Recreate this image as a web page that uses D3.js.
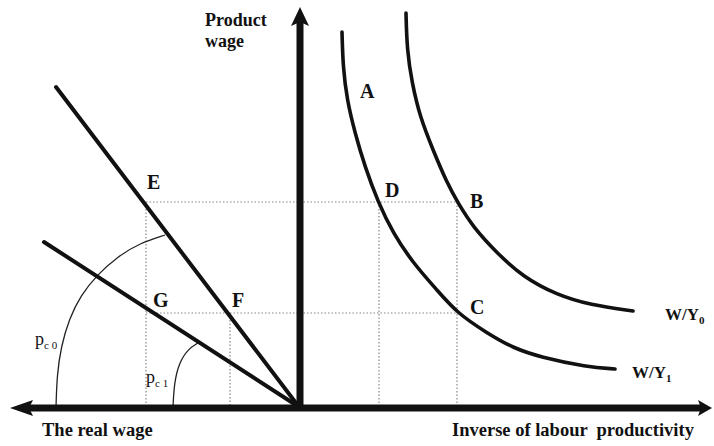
<!DOCTYPE html>
<html>
<head>
<meta charset="utf-8">
<script src="https://cdn.jsdelivr.net/npm/d3@7"></script>
<style>
  body { margin: 0; background: #fff; }
  text { font-family: "Liberation Serif", "Times New Roman", serif; fill: #111; }
</style>
</head>
<body>
<svg width="714" height="446"></svg>
<script>
// Curves of W/Y (product wage vs inverse of labour productivity)
const curveW0 = [[26.75, 98.5], [27, 89.25], [28.25, 81], [30.25, 72.5], [33.5, 64.25], [37, 56],
  [39.75, 51], [43.5, 45], [49.5, 38.5], [56, 32.5], [64.5, 28], [72.75, 25.5], [83.5, 24]];
const curveW1 = [[10.75, 93.75], [11, 85], [12, 76.75], [14, 68.5], [16.5, 60], [19.75, 51.25],
  [23.5, 43.5], [28.5, 36], [34.5, 29.25], [39.5, 23.5], [47, 18.5], [53.5, 14.75],
  [60.25, 12.5], [72, 10], [79, 9.5]];

// rays through origin (real wage side)
const rayE = [[0, 0], [-60.75, 80]];
const rayG = [[0, 0], [-63.75, 41.25]];

// angle arcs
const arcPc0 = [[-60.75, 0], [-60.5, 8], [-59.5, 15], [-57.5, 22], [-54.5, 28], [-50.5, 33], [-45.5, 37.5], [-39.75, 41], [-33.5, 43]];
const arcPc1 = [[-31.5, 0], [-31.2, 6], [-30, 11], [-27.75, 14.5], [-25.25, 16]];

// dotted guides
const hGuides = [[-38.25, 39.5, 51.25], [-38.25, 39.5, 23.5]];
const vGuides = [[-38.25, 51.25], [-17.25, 23.5], [20, 51.25], [39.5, 51.25]];

// point labels
const pointNames = ['A', 'B', 'C', 'D', 'E', 'F', 'G'];
const pointPos = [[15.25, 77.25], [42.75, 49.75], [42.75, 23.25], [21.5, 52.5], [-38, 54.5], [-16.75, 25], [-36.5, 25]];

const svg = d3.select('svg');

const x = d3.scaleLinear().domain([-72.25, 103.25]).range([10, 712]);
const y = d3.scaleLinear().domain([0, 100]).range([407, 7]);

const line = d3.line().x(d => x(d[0])).y(d => y(d[1]));
const smooth = d3.line().x(d => x(d[0])).y(d => y(d[1])).curve(d3.curveBasis);

// guides
svg.selectAll('.hguide').data(hGuides).enter().append('line')
  .attr('x1', d => x(d[0])).attr('x2', d => x(d[1]))
  .attr('y1', d => y(d[2])).attr('y2', d => y(d[2]))
  .attr('stroke', '#888').attr('stroke-width', 1.2).attr('stroke-dasharray', '1.5,2');

svg.selectAll('.vguide').data(vGuides).enter().append('line')
  .attr('x1', d => x(d[0])).attr('x2', d => x(d[0]))
  .attr('y1', d => y(d[1])).attr('y2', y(0))
  .attr('stroke', '#888').attr('stroke-width', 1.2).attr('stroke-dasharray', '1.5,2');

// arcs
[arcPc0, arcPc1].forEach(a => {
  svg.append('path').attr('d', smooth(a))
    .attr('fill', 'none').attr('stroke', '#222').attr('stroke-width', 1.3);
});

// rays
[rayE, rayG].forEach(r => {
  svg.append('path').attr('d', line(r))
    .attr('fill', 'none').attr('stroke', '#111').attr('stroke-width', 4).attr('stroke-linecap', 'round');
});

// W/Y curves
[curveW0, curveW1].forEach(c => {
  svg.append('path').attr('d', smooth(c))
    .attr('fill', 'none').attr('stroke', '#111').attr('stroke-width', 3.6).attr('stroke-linecap', 'round');
});

// axes
const x0 = x(0), y0 = y(0);
svg.append('line').attr('x1', x.range()[0] + 15).attr('x2', x.range()[1] - 10)
  .attr('y1', y0 + 1).attr('y2', y0 + 1).attr('stroke', '#111').attr('stroke-width', 7);
svg.append('line').attr('x1', x0 + 1).attr('x2', x0 + 1)
  .attr('y1', y0 + 1).attr('y2', y.range()[1] + 14).attr('stroke', '#111').attr('stroke-width', 7);

const arrows = [
  [[x.range()[0], y0 + 1], [x.range()[0] + 23, y0 - 7], [x.range()[0] + 19, y0 + 1], [x.range()[0] + 23, y0 + 9]],
  [[x.range()[1], y0 + 1], [x.range()[1] - 14, y0 - 7], [x.range()[1] - 11, y0 + 1], [x.range()[1] - 14, y0 + 9]],
  [[x0 + 1, y.range()[1]], [x0 - 8, y.range()[1] + 19], [x0 + 1, y.range()[1] + 15], [x0 + 10, y.range()[1] + 19]]
];
svg.selectAll('.arrow').data(arrows).enter().append('path')
  .attr('d', d => 'M' + d.join('L') + 'Z').attr('fill', '#111');

// axis titles
svg.append('text').attr('x', 205).attr('y', 26).attr('font-size', 18).attr('font-weight', 'bold').text('Product');
svg.append('text').attr('x', 205).attr('y', 47).attr('font-size', 18).attr('font-weight', 'bold').text('wage');
svg.append('text').attr('x', 42).attr('y', 436).attr('font-size', 18.5).attr('font-weight', 'bold').text('The real wage');
svg.append('text').attr('x', 452).attr('y', 436).attr('font-size', 18.5).attr('font-weight', 'bold')
  .style('white-space', 'pre').text('Inverse of labour  productivity');

// point labels
svg.selectAll('.pt').data(pointNames).enter().append('text')
  .attr('x', (d, i) => x(pointPos[i][0])).attr('y', (d, i) => y(pointPos[i][1]))
  .attr('font-size', 20).attr('font-weight', 'bold').text(d => d);

// curve labels
const w0 = svg.append('text').attr('x', 665).attr('y', 320).attr('font-size', 17).attr('font-weight', 'bold');
w0.append('tspan').text('W/Y');
w0.append('tspan').attr('dy', 4).attr('font-size', 11).text('0');
const w1 = svg.append('text').attr('x', 632).attr('y', 378).attr('font-size', 17).attr('font-weight', 'bold');
w1.append('tspan').text('W/Y');
w1.append('tspan').attr('dy', 4).attr('font-size', 11).text('1');

// angle labels
const p0 = svg.append('text').attr('x', 35).attr('y', 345).attr('font-size', 18);
p0.append('tspan').text('p');
p0.append('tspan').attr('dy', 4).attr('font-size', 11).style('white-space', 'pre').text('c 0');
const p1 = svg.append('text').attr('x', 146).attr('y', 383).attr('font-size', 18);
p1.append('tspan').text('p');
p1.append('tspan').attr('dy', 4).attr('font-size', 11).style('white-space', 'pre').text('c 1');
</script>
</body>
</html>
